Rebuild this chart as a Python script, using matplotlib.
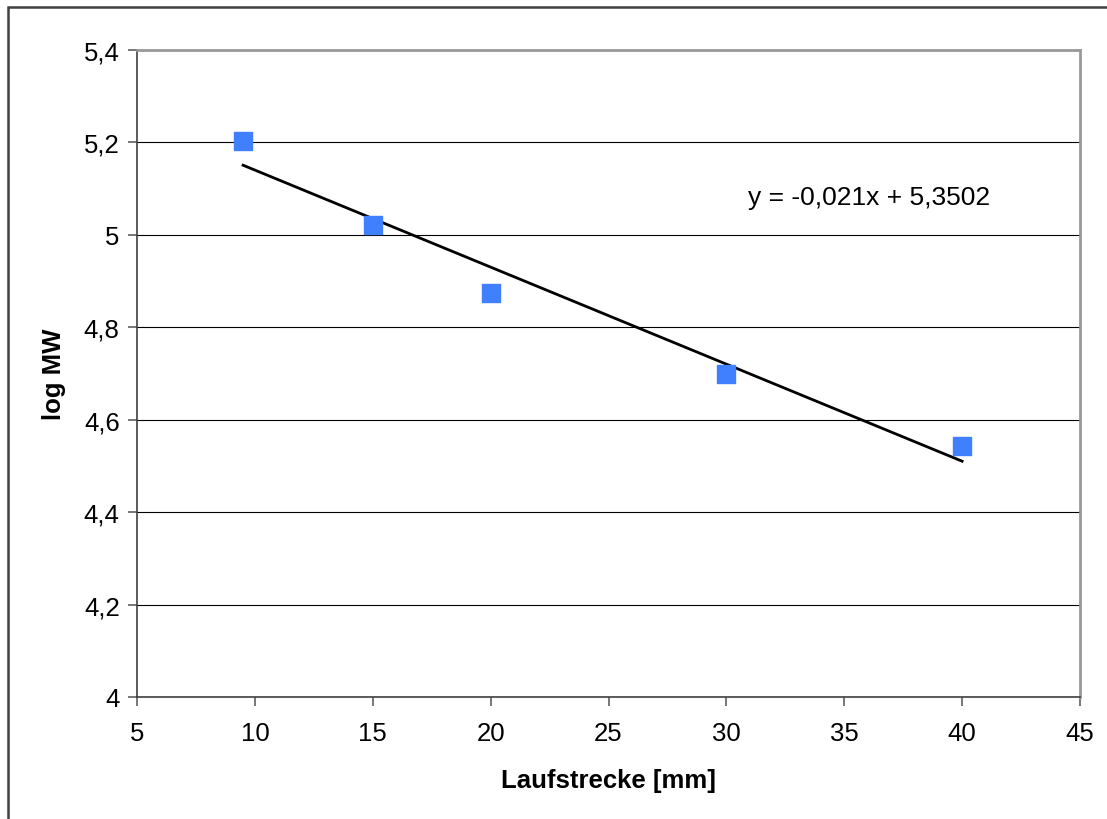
import matplotlib
matplotlib.use("Agg")
import matplotlib.pyplot as plt
from matplotlib.ticker import FuncFormatter, MultipleLocator
from matplotlib.patches import Rectangle
import numpy as np

# Laufstrecke [mm] vs. log MW
laufstrecke = [9.5, 15, 20, 30, 40]
log_mw = [5.204, 5.021, 4.875, 4.699, 4.544]

# Linear trendline
slope = -0.021
intercept = 5.3502
trend_label = "y = -0,021x + 5,3502"

plt.rcParams["font.family"] = ["Liberation Sans", "DejaVu Sans"]

fig = plt.figure(figsize=(11.07, 8.2), dpi=100)
ax = fig.add_axes([137 / 1107, 1 - 698 / 820, (1080 - 137) / 1107, (698 - 51) / 820])

# outer chart border (right and bottom edges run off the canvas)
fig.patches.append(Rectangle((8 / 1107, -0.05), 1.1, 1 - 8 / 820 + 0.05,
                             transform=fig.transFigure, fill=False,
                             edgecolor="#404040", linewidth=1.8, zorder=0))

ax.set_xlim(5, 45)
ax.set_ylim(4, 5.4)
ax.xaxis.set_major_locator(MultipleLocator(5))
ax.yaxis.set_major_locator(MultipleLocator(0.2))


def comma_fmt(v, pos):
    s = f"{v:.1f}".rstrip("0").rstrip(".")
    return s.replace(".", ",")


ax.yaxis.set_major_formatter(FuncFormatter(comma_fmt))
ax.xaxis.set_major_formatter(FuncFormatter(comma_fmt))

ax.grid(axis="y", color="black", linewidth=0.8)
ax.set_axisbelow(True)

for side in ["top", "right"]:
    ax.spines[side].set_color("#999999")
    ax.spines[side].set_linewidth(2)
for side in ["left", "bottom"]:
    ax.spines[side].set_color("#404040")
    ax.spines[side].set_linewidth(1.2)

ax.tick_params(axis="both", direction="out", length=6.5, width=1.2, color="#606060",
               labelsize=18.5, labelcolor="black")
ax.tick_params(axis="x", pad=10.5)
ax.tick_params(axis="y", pad=6)

# trendline across the measured range
xt = np.array([min(laufstrecke), max(laufstrecke)])
ax.plot(xt, slope * xt + intercept, color="black", linewidth=2, zorder=3)

ax.scatter(laufstrecke, log_mw, marker="s", s=150, color="#4080FF",
           edgecolors="#4080FF", zorder=4, clip_on=False)

ax.text(30.9, 5.082, trend_label, fontsize=19, ha="left", va="center")

ax.set_xlabel("Laufstrecke [mm]", fontsize=18.5, fontweight="bold", labelpad=17)
ax.set_ylabel("log MW", fontsize=18.5, fontweight="bold", labelpad=13)

fig.savefig("out.png", dpi=100)
